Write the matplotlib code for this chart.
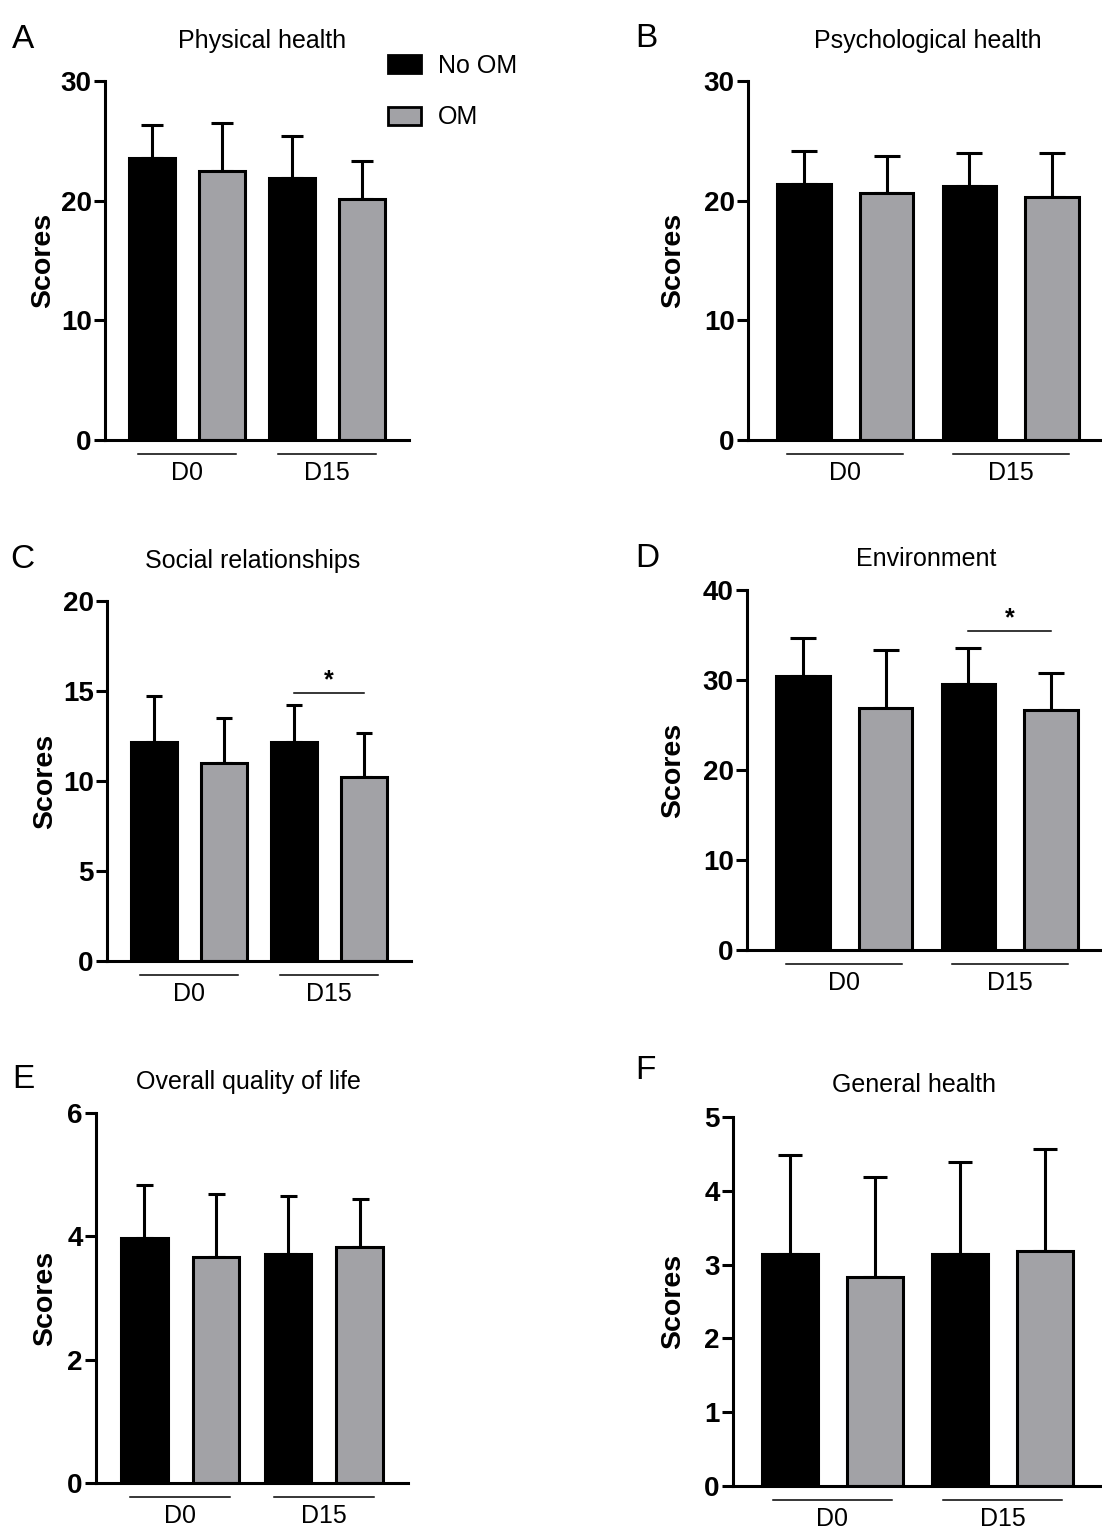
import matplotlib
matplotlib.use("Agg")
import matplotlib.pyplot as plt
import matplotlib.transforms as mtransforms
from matplotlib.patches import Patch

plt.rcParams['font.family'] = ['Liberation Sans', 'DejaVu Sans']

# data: each list is [D0, D15]
titles = ['Physical health', 'Psychological health', 'Social relationships',
          'Environment', 'Overall quality of life', 'General health']
letters = ['A', 'B', 'C', 'D', 'E', 'F']
groups = ['D0', 'D15']
series = ['No OM', 'OM']

no_om_mean = [[23.6, 21.9], [21.4, 21.2], [12.15, 12.15], [30.4, 29.6], [3.97, 3.71], [3.15, 3.15]]
no_om_sd = [[2.7, 3.5], [2.75, 2.8], [2.55, 2.05], [4.3, 4.0], [0.87, 0.94], [1.34, 1.24]]
om_mean = [[22.45, 20.15], [20.65, 20.3], [11.0, 10.25], [26.9, 26.7], [3.67, 3.82], [2.83, 3.19]]
om_sd = [[4.05, 3.15], [3.05, 3.7], [2.5, 2.4], [6.4, 4.1], [1.02, 0.79], [1.36, 1.38]]

y_max = [30, 30, 20, 40, 6, 5]
y_step = [10, 10, 5, 10, 2, 1]

# significance: (group index, bracket height)
sig_group = [None, None, 1, 1, None, None]
sig_height = [None, None, 14.9, 35.5, None, None]

BLACK = '#000000'
GRAY = '#a2a2a6'

W, H = 1102, 1529
fig = plt.figure(figsize=(W / 100, H / 100), dpi=100)

# layout in pixels: left, top, right, bottom of each plot area
axes_px = [(105, 81, 409, 440), (748, 81, 1108, 440),
           (107, 601, 411, 961), (747, 590, 1107, 950),
           (96, 1113, 408, 1483), (733, 1117, 1102, 1486)]
title_gap = [33, 33, 33, 24, 24, 24.5]
title_dx = [5, 0, -6, -1, -4, -3.5]
label_gap = [49, 62, 49, 61, 38, 47]
cap_px = [23, 27, 16, 27, 17, 24]
letter_pos = [(12, 48), (635, 47), (10, 568), (635, 567), (12, 1088), (635, 1079)]

tick_font = {'family': ['Liberation Sans Narrow', 'Liberation Sans', 'DejaVu Sans'],
             'weight': 'bold', 'size': 20}

for i in range(6):
    l, t, r, b = axes_px[i]
    ax = fig.add_axes([l / W, 1 - b / H, (r - l) / W, (b - t) / H])

    x = [0, 1, 2, 3]
    means = [no_om_mean[i][0], om_mean[i][0], no_om_mean[i][1], om_mean[i][1]]
    sds = [no_om_sd[i][0], om_sd[i][0], no_om_sd[i][1], om_sd[i][1]]
    colors = [BLACK, GRAY, BLACK, GRAY]

    ax.errorbar(x, means, yerr=[[0] * 4, sds], fmt='none', ecolor='black',
                elinewidth=2.2, capsize=cap_px[i] * 0.36, capthick=2.2, zorder=1)
    ax.bar(x, means, width=0.65, color=colors, edgecolor='black', linewidth=2.2, zorder=2)

    ax.set_xlim(-0.67, 3.67)
    ax.set_ylim(0, y_max[i])
    ax.set_yticks(range(0, y_max[i] + 1, y_step[i]))
    ax.set_xticks([])
    for side in ['top', 'right']:
        ax.spines[side].set_visible(False)
    for side in ['left', 'bottom']:
        ax.spines[side].set_linewidth(2.2)
    ax.tick_params(axis='y', direction='out', length=8, width=2.2, pad=1.5)
    for lab in ax.get_yticklabels():
        lab.set_fontproperties(tick_font)

    ax.set_ylabel('Scores', fontsize=20.5, fontweight='bold')
    ax.yaxis.set_label_coords(0, 0.5, transform=mtransforms.offset_copy(
        ax.transAxes, fig=fig, x=-label_gap[i], units='dots'))

    ax.text(0.5, 1, titles[i], ha='center', va='baseline', fontsize=18,
            transform=mtransforms.offset_copy(ax.transAxes, fig=fig, x=title_dx[i],
                                              y=title_gap[i], units='dots'))

    # group lines and labels under the axis
    trans = mtransforms.blended_transform_factory(ax.transData, ax.transAxes)
    for g, name in enumerate(groups):
        c = 2 * g + 0.5
        ax.plot([c - 0.7, c + 0.7], [0, 0], color='black', lw=1.1, clip_on=False,
                transform=mtransforms.offset_copy(trans, fig=fig, y=-14, units='dots'))
        ax.text(c, 0, name, ha='center', va='baseline', fontsize=18,
                transform=mtransforms.offset_copy(trans, fig=fig, y=-40, units='dots'))

    if sig_group[i] is not None:
        g = sig_group[i]
        h = sig_height[i]
        ax.plot([2 * g, 2 * g + 1], [h, h], color='black', lw=1.1, clip_on=False)
        ax.annotate('*', xy=(2 * g + 0.5, h), xytext=(0, 9), textcoords='offset points',
                    ha='center', va='center', fontsize=18, fontweight='bold')

    lx, ly = letter_pos[i]
    fig.text(lx / W, 1 - ly / H, letters[i], fontsize=24, ha='left', va='baseline')

handles = [Patch(facecolor=BLACK, edgecolor='black', linewidth=2),
           Patch(facecolor=GRAY, edgecolor='black', linewidth=2)]
fig.legend(handles, series, loc='upper left', bbox_to_anchor=(388 / W, 1 - 54 / H),
           frameon=False, fontsize=18, handlelength=1.3, handleheight=0.75,
           handletextpad=0.7, labelspacing=1.1, borderpad=0, borderaxespad=0)

fig.savefig('out.png', dpi=100)
